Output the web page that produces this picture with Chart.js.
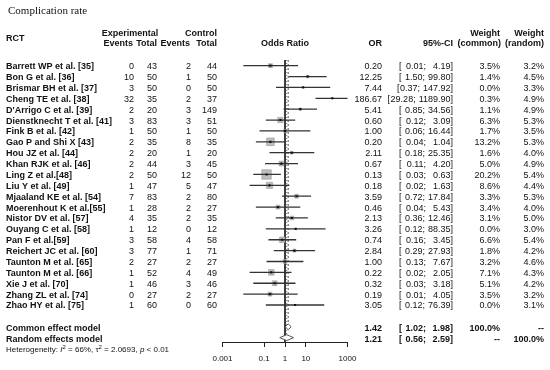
<!DOCTYPE html>
<html>
<head>
<meta charset="utf-8">
<script src="https://cdn.jsdelivr.net/npm/chart.js@4"></script>
<style>
  body { margin: 0; background: #fff; }
</style>
</head>
<body>
<canvas id="forest" width="550" height="370"></canvas>
<script>
// study rows
const studies = ['Barrett WP et al. [35]', 'Bon G et al. [36]', 'Brismar BH et al. [37]', 'Cheng TE et al. [38]',
  "D'Arrigo C et al. [39]", 'Dienstknecht T et al. [41]', 'Fink B et al. [42]', 'Gao P and Shi X [43]',
  'Hou JZ et al. [44]', 'Khan RJK et al. [46]', 'Ling Z et al.[48]', 'Liu Y et al. [49]',
  'Mjaaland KE et al. [54]', 'Moerenhout K et al.[55]', 'Nistor DV et al. [57]', 'Ouyang C et al. [58]',
  'Pan F et al.[59]', 'Reichert JC et al. [60]', 'Taunton M et al. [65]', 'Taunton M et al. [66]',
  'Xie J et al. [70]', 'Zhang ZL et al. [74]', 'Zhao HY et al. [75]'];
const expEvents = [0, 10, 3, 32, 2, 3, 1, 2, 2, 2, 2, 1, 7, 1, 4, 1, 3, 3, 2, 1, 1, 0, 1];
const expTotal = [43, 50, 50, 35, 20, 83, 50, 35, 20, 44, 50, 47, 83, 28, 35, 12, 58, 77, 27, 52, 46, 27, 60];
const ctrlEvents = [2, 1, 0, 2, 3, 3, 1, 8, 1, 3, 12, 5, 2, 2, 2, 0, 4, 1, 2, 4, 3, 2, 0];
const ctrlTotal = [44, 50, 50, 37, 149, 51, 50, 35, 20, 45, 50, 47, 80, 27, 35, 12, 58, 71, 27, 49, 46, 27, 60];
const oddsRatio = [0.20, 12.25, 7.44, 186.67, 5.41, 0.60, 1.00, 0.20, 2.11, 0.67, 0.13, 0.18, 3.59, 0.46, 2.13, 3.26, 0.74, 2.84, 1.00, 0.22, 0.32, 0.19, 3.05];
const ciLower = [0.01, 1.50, 0.37, 29.28, 0.85, 0.12, 0.06, 0.04, 0.18, 0.11, 0.03, 0.02, 0.72, 0.04, 0.36, 0.12, 0.16, 0.29, 0.13, 0.02, 0.03, 0.01, 0.12];
const ciUpper = [4.19, 99.80, 147.92, 1189.90, 34.56, 3.09, 16.44, 1.04, 25.35, 4.20, 0.63, 1.63, 17.84, 5.43, 12.46, 88.35, 3.45, 27.93, 7.67, 2.05, 3.18, 4.05, 76.39];
const weightCommon = [3.5, 1.4, 0.0, 0.3, 1.1, 6.3, 1.7, 13.2, 1.6, 5.0, 20.2, 8.6, 3.3, 3.4, 3.1, 0.0, 6.6, 1.8, 3.2, 7.1, 5.1, 3.5, 0.0];
const weightRandom = [3.2, 4.5, 3.3, 4.9, 4.9, 5.3, 3.5, 5.3, 4.0, 4.9, 5.4, 4.4, 5.3, 4.0, 5.0, 3.0, 5.4, 4.2, 4.6, 4.3, 4.2, 3.2, 3.1];

// pooled rows
const summaryLabels = ['Common effect model', 'Random effects model'];
const summaryOR = [1.42, 1.21];
const summaryLower = [1.02, 0.56];
const summaryUpper = [1.98, 2.59];
const summaryWeightCommon = ['100.0%', '--'];
const summaryWeightRandom = ['--', '100.0%'];
const summaryRows = [24, 25];

const xTicks = [0.001, 0.1, 1, 10, 1000];

const FONT = '"Liberation Sans", Arial, sans-serif';
const n = studies.length;

const datasets = [];

// point markers on top
datasets.push({
  data: oddsRatio.map((v, i) => ({ x: v, y: i })),
  pointStyle: 'rect', pointRadius: 1.5, backgroundColor: '#111', borderWidth: 0, order: 0
});
// confidence intervals
studies.forEach((s, i) => {
  datasets.push({
    data: [{ x: ciLower[i], y: i }, { x: ciUpper[i], y: i }],
    showLine: true, pointRadius: 0, borderColor: '#333', borderWidth: 1.3, order: 1
  });
});
// weight squares
datasets.push({
  data: oddsRatio.map((v, i) => ({ x: v, y: i })),
  pointStyle: 'rect',
  pointRadius: weightCommon.map(w => 9.5 * Math.sqrt(w / 20.2) / Math.SQRT2),
  backgroundColor: '#bdbdbd', borderColor: '#9a9a9a', borderWidth: 0.6, order: 2
});
// diamonds
summaryRows.forEach((r, k) => {
  datasets.push({
    data: [{ x: summaryLower[k], y: r }, { x: summaryOR[k], y: r - 0.27 }, { x: summaryUpper[k], y: r },
      { x: summaryOR[k], y: r + 0.27 }, { x: summaryLower[k], y: r }],
    showLine: true, fill: 'shape', pointRadius: 0, backgroundColor: '#fff',
    borderColor: '#555', borderWidth: 1, order: 3
  });
});
// reference lines
datasets.push({
  data: [{ x: 1, y: -0.52 }, { x: 1, y: 25.4 }],
  showLine: true, pointRadius: 0, borderColor: '#222', borderWidth: 1, order: 5
});
datasets.push({
  data: [{ x: summaryOR[0], y: -0.52 }, { x: summaryOR[0], y: 23.7 }],
  showLine: true, pointRadius: 0, borderColor: '#555', borderWidth: 1, borderDash: [2, 2], order: 4
});
datasets.push({
  data: [{ x: summaryOR[1], y: -0.52 }, { x: summaryOR[1], y: 24.7 }],
  showLine: true, pointRadius: 0, borderColor: '#777', borderWidth: 1, borderDash: [1, 2], order: 4
});

function txt(ctx, s, x, y, align, bold) {
  ctx.font = (bold ? 'bold ' : '') + '9px ' + FONT;
  ctx.textAlign = align;
  ctx.fillText(s, x, y);
}

const tablePlugin = {
  id: 'table',
  afterDraw(chart) {
    const ctx = chart.ctx;
    const ys = chart.scales.y;
    ctx.save();
    ctx.fillStyle = '#111';
    ctx.textBaseline = 'middle';

    ctx.font = '11px "Liberation Serif", "Times New Roman", serif';
    ctx.textAlign = 'left';
    ctx.fillText('Complication rate', 8, 11);

    // headers
    txt(ctx, 'RCT', 6, 39, 'left', true);
    txt(ctx, 'Experimental', 130, 34, 'center', true);
    txt(ctx, 'Control', 217, 34, 'right', true);
    txt(ctx, 'Events', 133, 44, 'right', true);
    txt(ctx, 'Total', 157, 44, 'right', true);
    txt(ctx, 'Events', 190, 44, 'right', true);
    txt(ctx, 'Total', 217, 44, 'right', true);
    txt(ctx, 'Odds Ratio', 285, 44, 'center', true);
    txt(ctx, 'OR', 382, 44, 'right', true);
    txt(ctx, '95%-CI', 453, 44, 'right', true);
    txt(ctx, 'Weight', 500, 34, 'right', true);
    txt(ctx, '(common)', 501, 44, 'right', true);
    txt(ctx, 'Weight', 544, 34, 'right', true);
    txt(ctx, '(random)', 544, 44, 'right', true);

    const ci = (lo, hi, y, bold) => {
      const right = hi.toFixed(2) + ']';
      txt(ctx, right, 453, y, 'right', bold);
      const rw = ctx.measureText(right).width;
      const left = lo.toFixed(2) + ';';
      const lx = Math.min(426, 453 - rw - 3);
      txt(ctx, left, lx, y, 'right', bold);
      const w = ctx.measureText(left).width;
      txt(ctx, '[', Math.min(399, lx - w - 3), y, 'left', bold);
    };

    for (let i = 0; i < n; i++) {
      const y = ys.getPixelForValue(i) + 1;
      txt(ctx, studies[i], 6, y, 'left', true);
      txt(ctx, String(expEvents[i]), 134, y, 'right');
      txt(ctx, String(expTotal[i]), 157, y, 'right');
      txt(ctx, String(ctrlEvents[i]), 191, y, 'right');
      txt(ctx, String(ctrlTotal[i]), 217, y, 'right');
      txt(ctx, oddsRatio[i].toFixed(2), 382, y, 'right');
      ci(ciLower[i], ciUpper[i], y, false);
      txt(ctx, weightCommon[i].toFixed(1) + '%', 500, y, 'right');
      txt(ctx, weightRandom[i].toFixed(1) + '%', 544, y, 'right');
    }

    summaryRows.forEach((r, k) => {
      const y = ys.getPixelForValue(r) + 1.5;
      txt(ctx, summaryLabels[k], 6, y, 'left', true);
      txt(ctx, summaryOR[k].toFixed(2), 382, y, 'right', true);
      ci(summaryLower[k], summaryUpper[k], y, true);
      txt(ctx, summaryWeightCommon[k], 500, y, 'right', true);
      txt(ctx, summaryWeightRandom[k], 544, y, 'right', true);
    });

    // heterogeneity line
    let x = 6;
    const hy = 350;
    const part = (s, style, dy) => {
      ctx.font = style + FONT;
      ctx.textAlign = 'left';
      ctx.fillText(s, x, hy + (dy || 0));
      x += ctx.measureText(s).width;
    };
    part('Heterogeneity: ', '8px ');
    part('I', 'italic 8px ');
    part('2', '6px ', -3);
    part(' = 66%, \u03c4', '8px ');
    part('2', '6px ', -3);
    part(' = 2.0693, ', '8px ');
    part('p', 'italic 8px ');
    part(' < 0.01', '8px ');
    ctx.restore();
  }
};

new Chart(document.getElementById('forest'), {
  type: 'scatter',
  data: { datasets: datasets },
  plugins: [tablePlugin],
  options: {
    responsive: false,
    animation: false,
    layout: { padding: { left: 222.5, right: 202.5, top: 60, bottom: 6 } },
    plugins: { legend: { display: false }, tooltip: { enabled: false } },
    scales: {
      x: {
        type: 'logarithmic',
        min: 0.001,
        max: 1000,
        afterBuildTicks: (scale) => { scale.ticks = xTicks.map(v => ({ value: v })); },
        afterFit: (scale) => { scale.height = 22; },
        grid: { drawOnChartArea: false, drawTicks: true, tickLength: 5, color: '#222' },
        border: { display: true, color: '#222', width: 1 },
        ticks: {
          color: '#111', padding: 7, maxRotation: 0, autoSkip: false,
          font: { family: FONT, size: 8 },
          callback: (v) => String(v)
        }
      },
      y: {
        type: 'linear', reverse: true, min: -0.52, max: 25.4, display: false
      }
    }
  }
});
</script>
</body>
</html>
